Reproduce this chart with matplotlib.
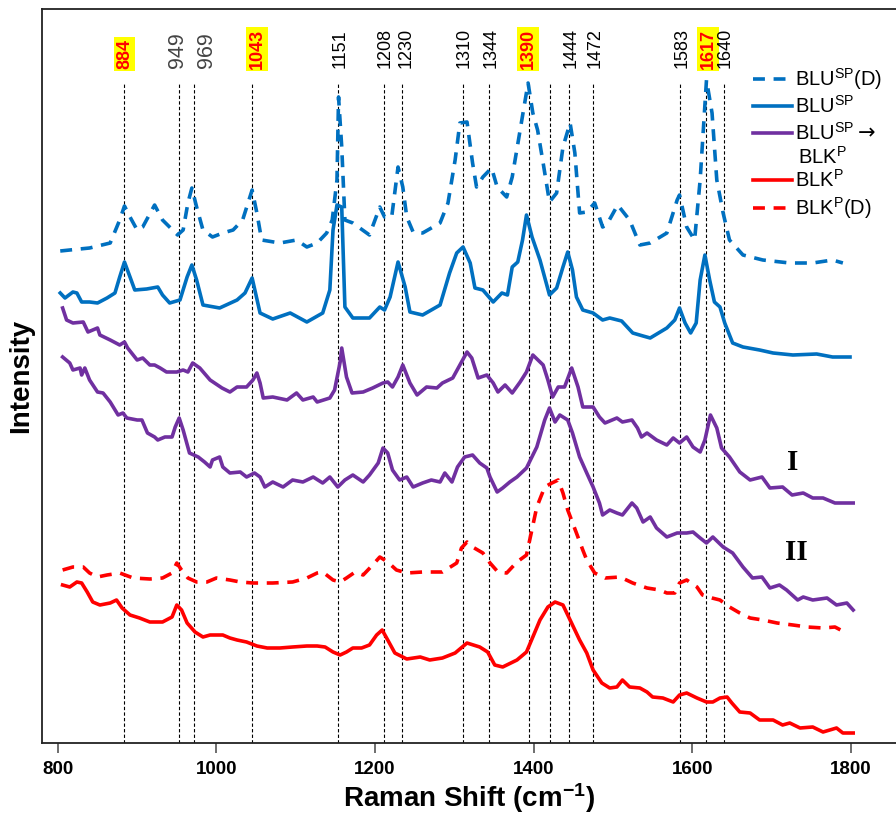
import numpy as np
import matplotlib
matplotlib.use('Agg')
import matplotlib.pyplot as plt
import matplotlib.transforms as mtransforms

plt.rcParams['font.family'] = ['Liberation Sans', 'DejaVu Sans']
plt.rcParams['mathtext.fontset'] = 'custom'
plt.rcParams['mathtext.rm'] = 'Liberation Sans'
plt.rcParams['mathtext.bf'] = 'Liberation Sans:bold'
plt.rcParams['mathtext.default'] = 'rm'

# ---- spectra (Raman shift in cm-1, intensity in arbitrary units) ----
blu_d_x = [803, 815, 840, 866, 878, 884, 891, 900, 907, 922, 932, 951, 958, 964, 969, 975, 983, 995, 1008,
           1021, 1033, 1045, 1051, 1057, 1080, 1101, 1114, 1127, 1139, 1146, 1152, 1154, 1158, 1162, 1172,
           1193, 1206, 1212, 1221, 1229, 1235, 1240, 1248, 1260, 1282, 1292, 1301, 1307, 1316, 1323, 1328,
           1336, 1347, 1354, 1366, 1373, 1383, 1393, 1399, 1405, 1412, 1420, 1429, 1437, 1446, 1452, 1458,
           1467, 1477, 1487, 1492, 1506, 1521, 1534, 1547, 1568, 1581, 1584, 1593, 1603, 1610, 1618, 1625,
           1631, 1639, 1647, 1664, 1689, 1723, 1752, 1777, 1790]
blu_d_y = [492, 493, 495, 500, 523, 537, 526, 513, 516, 538, 523, 508, 513, 540, 555, 536, 513, 506, 510,
           513, 523, 553, 530, 503, 500, 503, 496, 500, 510, 523, 563, 646, 596, 523, 520,
           508, 536, 526, 526, 576, 556, 526, 511, 510, 520, 540, 583, 620, 621, 580, 556,
           566, 575, 556, 546, 566, 613, 660, 630, 613, 580, 541, 550, 596, 620, 590, 530,
           531, 540, 516, 518, 538, 523, 498, 500, 510, 543, 548, 516, 503, 563, 663, 630,
           563, 530, 503, 488, 483, 480, 480, 483, 480]

blu_x = [803, 809, 819, 824, 830, 840, 850, 862, 872, 878, 884, 891, 897, 912, 926, 932, 941, 954, 963,
         969, 975, 983, 1004, 1026, 1036, 1045, 1055, 1071, 1093, 1114, 1134, 1143, 1147, 1152, 1158, 1162,
         1172, 1193, 1206, 1212, 1219, 1229, 1238, 1244, 1260, 1282, 1294, 1303, 1311, 1320, 1326, 1336,
         1349, 1360, 1367, 1373, 1380, 1386, 1391, 1398, 1408, 1420, 1429, 1437, 1443, 1449, 1454, 1462,
         1475, 1487, 1496, 1511, 1525, 1538, 1547, 1568, 1578, 1584, 1591, 1598, 1605, 1610, 1616, 1622,
         1628, 1635, 1641, 1651, 1664, 1685, 1702, 1727, 1757, 1777, 1799]
blu_y = [450, 445, 451, 450, 441, 441, 440, 445, 450, 466, 481, 466, 453, 454, 456, 448, 440, 443, 466,
         478, 463, 438, 435, 443, 450, 465, 430, 424, 430, 421, 430, 453, 513, 538, 536, 436,
         425, 425, 436, 433, 446, 481, 456, 431, 428, 438, 470, 490, 496, 480, 455, 453,
         441, 450, 448, 476, 481, 503, 528, 506, 483, 448, 455, 476, 491, 473, 446, 433,
         430, 423, 425, 422, 410, 407, 405, 415, 423, 435, 420, 410, 420, 463, 488, 463,
         441, 436, 420, 400, 396, 393, 390, 388, 389, 386, 386]

pur1_x = [806, 811, 819, 832, 838, 850, 853, 866, 878, 884, 888, 900, 907, 916, 922, 929, 937, 950, 958,
          964, 970, 979, 992, 1007, 1017, 1026, 1038, 1046, 1051, 1055, 1059, 1071, 1089, 1101, 1109, 1122,
          1127, 1143, 1149, 1156, 1158, 1164, 1171, 1185, 1197, 1210, 1216, 1222, 1229, 1235, 1244, 1253,
          1265, 1278, 1285, 1298, 1307, 1316, 1322, 1330, 1341, 1349, 1355, 1364, 1373, 1383, 1391, 1399,
          1412, 1418, 1424, 1431, 1439, 1448, 1456, 1462, 1475, 1483, 1490, 1505, 1512, 1524, 1531, 1536,
          1543, 1555, 1568, 1576, 1584, 1593, 1601, 1610, 1616, 1623, 1631, 1637, 1647, 1660, 1673, 1688,
          1698, 1714, 1726, 1740, 1752, 1765, 1780, 1803]
pur1_y = [435, 423, 420, 421, 411, 415, 408, 403, 398, 401, 395, 383, 385, 378, 378, 375, 371, 371, 373,
          371, 380, 375, 363, 355, 351, 356, 356, 363, 370, 360, 345, 346, 343, 350, 343, 346,
          341, 345, 353, 381, 395, 366, 350, 351, 355, 360, 361, 356, 366, 378, 360, 348,
          356, 355, 360, 365, 378, 391, 385, 365, 368, 360, 351, 358, 350, 361, 371, 388,
          378, 363, 346, 356, 356, 375, 356, 336, 336, 326, 320, 325, 321, 323, 315, 306,
          310, 303, 298, 305, 300, 306, 296, 291, 303, 328, 315, 295, 286, 271, 263, 266,
          255, 256, 248, 250, 245, 245, 240, 240]

pur2_x = [806, 815, 819, 828, 830, 834, 840, 850, 857, 866, 876, 882, 887, 900, 906, 913, 922, 926, 935,
          944, 948, 953, 958, 966, 977, 985, 992, 995, 1004, 1008, 1017, 1030, 1038, 1048, 1055, 1061,
          1071, 1084, 1096, 1109, 1122, 1134, 1143, 1153, 1162, 1172, 1185, 1193, 1204, 1210, 1216, 1222,
          1231, 1240, 1248, 1260, 1271, 1282, 1288, 1297, 1304, 1313, 1323, 1332, 1341, 1345, 1354, 1361,
          1370, 1379, 1391, 1404, 1414, 1420, 1427, 1433, 1443, 1449, 1458, 1467, 1475, 1483, 1487, 1496,
          1505, 1512, 1524, 1530, 1538, 1547, 1555, 1568, 1581, 1593, 1601, 1610, 1618, 1626, 1639, 1651,
          1664, 1676, 1688, 1698, 1710, 1719, 1733, 1740, 1752, 1770, 1782, 1795, 1803]
pur2_y = [386, 380, 373, 375, 368, 375, 363, 351, 350, 341, 328, 330, 325, 323, 323, 310, 306, 303, 306,
          306, 316, 325, 313, 290, 286, 281, 276, 283, 286, 276, 270, 271, 266, 270, 266, 256,
          261, 256, 263, 261, 266, 260, 266, 256, 263, 268, 261, 268, 280, 295, 290, 273,
          263, 266, 256, 260, 263, 261, 270, 261, 276, 286, 288, 280, 275, 266, 251, 255,
          261, 266, 275, 296, 323, 335, 321, 328, 323, 310, 286, 270, 256, 240, 228, 233,
          230, 228, 240, 235, 221, 226, 215, 206, 210, 210, 211, 205, 200, 206, 196, 190,
          176, 165, 166, 155, 158, 153, 143, 146, 143, 145, 138, 140, 133]

blk_d_x = [806, 819, 832, 840, 850, 862, 878, 895, 916, 932, 944, 950, 956, 964, 975, 988, 1000, 1017,
           1030, 1046, 1071, 1096, 1114, 1127, 1134, 1147, 1156, 1164, 1175, 1185, 1197, 1206, 1216, 1227,
           1240, 1260, 1285, 1303, 1309, 1316, 1323, 1336, 1345, 1355, 1366, 1379, 1391, 1404, 1414, 1423,
           1431, 1437, 1443, 1454, 1462, 1467, 1477, 1490, 1509, 1525, 1543, 1559, 1568, 1578, 1584, 1593,
           1606, 1613, 1625, 1635, 1647, 1660, 1673, 1689, 1707, 1727, 1745, 1765, 1780, 1792]
blk_d_y = [173, 176, 176, 170, 166, 168, 170, 165, 164, 165, 170, 180, 173, 165, 161, 161, 165, 163,
           161, 160, 160, 161, 165, 170, 171, 163, 161, 165, 171, 168, 178, 186, 181, 173,
           170, 171, 171, 180, 195, 201, 196, 190, 180, 171, 170, 181, 188, 236, 256, 260,
           263, 250, 233, 210, 193, 183, 170, 165, 166, 160, 155, 153, 150, 150, 160, 163,
           156, 148, 145, 143, 136, 130, 125, 123, 120, 118, 116, 115, 116, 111]

blk_x = [806, 815, 824, 830, 837, 844, 853, 866, 874, 881, 891, 903, 916, 932, 944, 950, 956, 963, 973,
         983, 992, 1008, 1017, 1026, 1038, 1051, 1064, 1080, 1096, 1114, 1127, 1137, 1147, 1156, 1164,
         1172, 1183, 1193, 1202, 1209, 1216, 1225, 1240, 1257, 1269, 1285, 1301, 1316, 1332, 1342, 1351,
         1361, 1379, 1391, 1399, 1408, 1418, 1427, 1437, 1446, 1458, 1467, 1475, 1486, 1496, 1505, 1512,
         1521, 1534, 1543, 1550, 1563, 1576, 1584, 1593, 1606, 1618, 1626, 1635, 1644, 1650, 1660, 1673,
         1685, 1702, 1714, 1723, 1736, 1752, 1765, 1782, 1790, 1803]
blk_y = [158, 156, 161, 160, 151, 141, 138, 140, 143, 135, 128, 125, 121, 121, 126, 138, 133, 120, 111,
         106, 108, 108, 105, 103, 101, 97, 95, 95, 96, 97, 97, 96, 91, 88, 91,
         95, 95, 98, 108, 113, 103, 90, 84, 86, 83, 85, 90, 100, 96, 91, 78,
         76, 83, 91, 106, 123, 136, 141, 138, 123, 103, 90, 73, 60, 55, 56, 63,
         56, 55, 51, 46, 45, 41, 48, 50, 45, 41, 41, 45, 46, 40, 31, 30,
         23, 23, 18, 20, 15, 16, 11, 15, 10, 10]

# ---- marked peaks ----
line_pos = [884, 953, 972, 1045, 1153, 1211, 1234, 1311, 1344, 1394, 1421, 1444, 1475, 1584, 1617, 1640]
peak_labels = ['884', '949', '969', '1043', '1151', '1208', '1230', '1310', '1344', '1390',
               '1444', '1472', '1583', '1617', '1640']
label_pos = [884, 951, 988, 1051, 1156, 1213, 1239, 1312, 1347, 1393, 1447, 1477, 1587, 1620, 1642]
highlighted = ['884', '1043', '1390', '1617']
grey_labels = ['949', '969']

blue = '#0070C0'
purple = '#7030A0'
red = '#FF0000'

fig = plt.figure(figsize=(8.96, 8.17), dpi=100)
ax = fig.add_axes([42 / 896, 74 / 817, 854 / 896, 734 / 817])

for p in line_pos:
    ax.axvline(p, ymin=0, ymax=0.9, color='black', lw=0.8, ls=(0, (3, 2)), zorder=1)

dash = (0, (3.3, 2.4))
ax.plot(blu_d_x, blu_d_y, color=blue, lw=2.6, ls=dash, zorder=3)
ax.plot(blu_x, blu_y, color=blue, lw=2.6, zorder=3)
ax.plot(pur1_x, pur1_y, color=purple, lw=2.6, zorder=3)
ax.plot(pur2_x, pur2_y, color=purple, lw=2.6, zorder=3)
ax.plot(blk_d_x, blk_d_y, color=red, lw=2.6, ls=dash, zorder=3)
ax.plot(blk_x, blk_y, color=red, lw=2.6, zorder=3)

# peak labels on top
trans = mtransforms.blended_transform_factory(ax.transData, ax.transAxes)
for lab, p in zip(peak_labels, label_pos):
    if lab in highlighted:
        ax.text(p, 0.918, lab, transform=trans, rotation=90, ha='center', va='bottom',
                fontsize=13, fontweight='bold', color=red,
                bbox=dict(facecolor='yellow', edgecolor='none', pad=1.5))
    elif lab in grey_labels:
        ax.text(p, 0.92, lab, transform=trans, rotation=90, ha='center', va='bottom',
                fontsize=15.5, color='#444444')
    else:
        ax.text(p, 0.92, lab, transform=trans, rotation=90, ha='center', va='bottom',
                fontsize=13, color='black')

# legend drawn by hand
leg = [(r'BLU$^{SP}$(D)', blue, dash, 0.9046),
       (r'BLU$^{SP}$', blue, '-', 0.8678),
       (r'BLU$^{SP}$', purple, '-', 0.8311),
       (r'BLK$^{P}$', red, '-', 0.767),
       (r'BLK$^{P}$(D)', red, dash, 0.7289)]
for text, c, ls, y in leg:
    ax.plot([0.8326, 0.878], [y, y], transform=ax.transAxes, color=c, lw=2.6, ls=ls, clip_on=False)
    ax.text(0.8817, y, text, transform=ax.transAxes, ha='left', va='center', fontsize=14.5)
ax.text(0.955, 0.8311, '→', transform=ax.transAxes, ha='left', va='center', fontsize=15,
        family='DejaVu Sans')
ax.text(0.8855, 0.7984, r'BLK$^{P}$', transform=ax.transAxes, ha='left', va='center', fontsize=14.5)

# sample markers
ax.text(1727, 281, 'I', fontsize=21, fontweight='bold', family='Liberation Serif', ha='center', va='center')
ax.text(1731, 190, 'II', fontsize=21, fontweight='bold', family='Liberation Serif', ha='center', va='center')

ax.set_xlim(780, 1857)
ax.set_ylim(0, 734)
ax.set_yticks([])
ax.set_xticks([800, 1000, 1200, 1400, 1600, 1800])
ax.tick_params(axis='x', length=7, width=1.2, color='#555555', pad=6)
for lbl in ax.get_xticklabels():
    lbl.set_fontweight('bold')
    lbl.set_fontsize(13.5)

ax.spines['right'].set_visible(False)
for s in ['left', 'top', 'bottom']:
    ax.spines[s].set_linewidth(1.3)
    ax.spines[s].set_color('#222222')

ax.set_xlabel(r'Raman Shift (cm$^{\mathbf{-1}}$)', fontsize=20, fontweight='bold', labelpad=2)
ax.set_ylabel('Intensity', fontsize=20, fontweight='bold', labelpad=6)

fig.savefig('out.png', dpi=100)
